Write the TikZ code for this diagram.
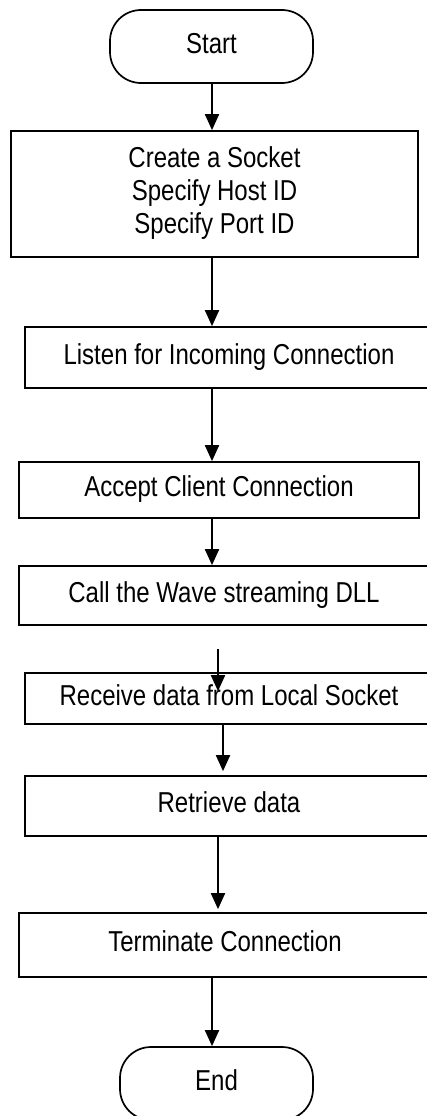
\documentclass[tikz,border=0pt]{standalone}
\usepackage{fontspec}
\setmainfont{Liberation Sans}
\usetikzlibrary{arrows.meta}

% labels are set a little taller than the plain face
\newcommand\steplabel[1]{\scalebox{1}[1.2]{\begin{tabular}{@{}c@{}}#1\end{tabular}}}

\begin{document}
\begin{tikzpicture}[x=1pt, y=-1pt,
  every node/.style={font=\fontsize{24}{27.5}\selectfont, inner sep=0pt},
  term/.style={draw, line width=1.7pt, rounded corners=31pt, minimum height=73pt},
  procbox/.style={draw, line width=1.7pt},
  arr/.style={line width=1.9pt, -{Triangle[length=16pt,width=14pt]}}
]
\useasboundingbox (0,0) rectangle (427,1116);

% steps of the server flow
\node[term, minimum width=203pt] (start) at (211.5,46.5) {\steplabel{Start}};
\node[procbox, minimum width=407pt, minimum height=126pt] (b1) at (214.5,194)
  {\steplabel{Create a Socket\\Specify Host ID\\Specify Port ID}};
\node[procbox, minimum width=408pt, minimum height=61pt] (b2) at (229,357.5)
  {\steplabel{Listen for Incoming Connection}};
\node[procbox, minimum width=400pt, minimum height=56pt] (b3) at (219,490)
  {\steplabel{Accept Client Connection}};
\node[procbox, minimum width=410pt, minimum height=59pt] (b4) at (224,595.5)
  {\steplabel{Call the Wave streaming DLL}};
\node[procbox, minimum width=408pt, minimum height=51pt] (b5) at (229,698.5)
  {\steplabel{Receive data from Local Socket}};
\node[procbox, minimum width=408pt, minimum height=60pt] (b6) at (229,806)
  {\steplabel{Retrieve data}};
\node[procbox, minimum width=412pt, minimum height=64pt] (b7) at (225,945)
  {\steplabel{Terminate Connection}};
\node[term, minimum width=193pt] (end) at (216.5,1083.5) {\steplabel{End}};

% connectors
\draw[arr] ([xshift=0.5pt]start.south) -- ([xshift=0.5pt]start.south |- b1.north);
\draw[arr] ([xshift=-2.5pt]b1.south) -- ([xshift=-2.5pt]b1.south |- b2.north);
\draw[arr] ([xshift=-17pt]b2.south) -- ([xshift=-17pt]b2.south |- b3.north);
\draw[arr] ([xshift=-7pt]b3.south) -- ([xshift=-7pt]b3.south |- b4.north);
\draw[arr] ([xshift=-6pt,yshift=-23pt]b4.south) -- ([xshift=-11pt,yshift=-19pt]b5.north);
\draw[arr] ([xshift=-6pt]b5.south) -- ([xshift=-6pt,yshift=4pt]b5.south |- b6.north);
\draw[arr] ([xshift=-11pt]b6.south) -- ([xshift=-11pt,yshift=3pt]b6.south |- b7.north);
\draw[arr] ([xshift=-13pt]b7.south) -- ([xshift=-13pt]b7.south |- end.north);
\end{tikzpicture}
\end{document}
